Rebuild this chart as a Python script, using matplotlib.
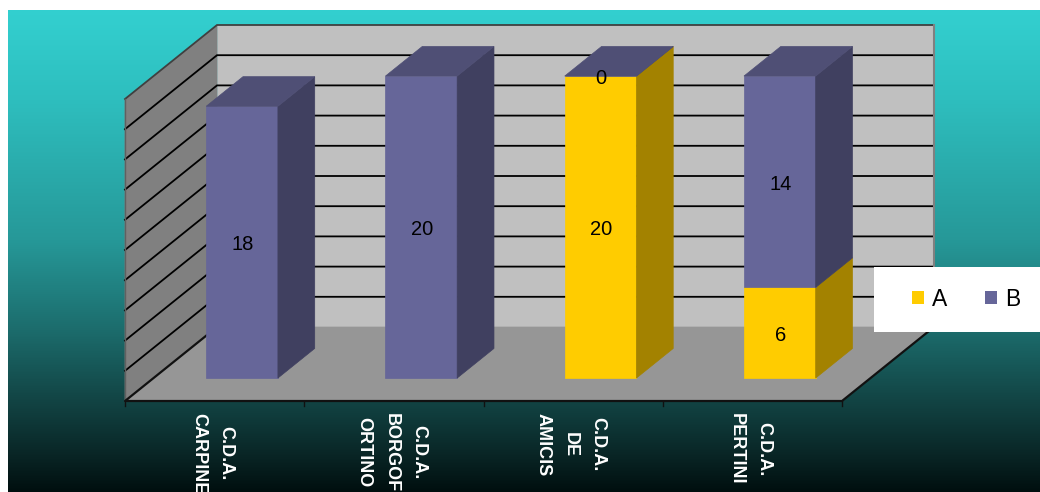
import numpy as np
import matplotlib
matplotlib.use("Agg")
import matplotlib.pyplot as plt
from matplotlib.patches import Polygon, Rectangle

categories = ["C.D.A.\nCARPINE", "C.D.A.\nBORGOF\nORTINO", "C.D.A.\nDE\nAMICIS", "C.D.A.\nPERTINI"]
series_names = ["A", "B"]
values_a = [np.nan, np.nan, 20, 6]
values_b = [18, 20, 0, 14]
grid_ticks = list(range(0, 21, 2))

plt.rcParams["font.family"] = ["Liberation Sans", "DejaVu Sans"]
fig = plt.figure(figsize=(10.4, 4.92), dpi=100, facecolor="white")
ax = fig.add_axes([0, 0, 1, 1])
ax.axis("off")

# background gradient
stops_y = [10, 100, 240, 330, 400, 450, 492]
stops_c = np.array([[51, 208, 208], [46, 190, 190], [38, 152, 152], [28, 108, 108],
                    [18, 68, 68], [10, 40, 40], [0, 14, 14]]) / 255
ys = np.arange(10, 492)
grad = np.stack([np.interp(ys, stops_y, stops_c[:, i]) for i in range(3)], axis=1)[:, None, :]
ax.imshow(grad, extent=(8, 1040, 492, 10), aspect="auto", zorder=0, interpolation="bilinear")
ax.set_xlim(0, 1040)
ax.set_ylim(492, 0)

# projection: category position, value, depth (0 front .. 1 back)
X0, Y0, CAT_W, UNIT, DX, DY = 125, 401, 179.25, 15.1, 92, 74


def P(c, v, d):
    return (X0 + c * CAT_W + d * DX, Y0 - v * UNIT - d * DY)


def poly(pts, color, z, edge=None):
    ax.add_patch(Polygon(pts, closed=True, facecolor=color, edgecolor=edge or color, lw=0.5, zorder=z))


n = len(categories)
top = grid_ticks[-1]
poly([P(0, 0, 1), P(n, 0, 1), P(n, top, 1), P(0, top, 1)], "#C0C0C0", 1)
poly([P(0, 0, 0), P(0, 0, 1), P(0, top, 1), P(0, top, 0)], "#808080", 1)
poly([P(0, 0, 0), P(n, 0, 0), P(n, 0, 1), P(0, 0, 1)], "#969696", 1)

for t in grid_ticks[1:]:
    lc = "#404040" if t == top else "black"
    ax.plot(*zip(P(0, t, 0), P(0, t, 1), P(n, t, 1)), color=lc, lw=1.3, zorder=2, solid_joinstyle="miter")
ax.plot(*zip(P(n, top, 1), P(n, 0, 1)), color="#808080", lw=1.5, zorder=2)
ax.plot(*zip(P(0, top, 0), P(0, 0, 0)), color="#606060", lw=1, zorder=2)
ax.plot(*zip(P(0, 0, 1), P(0, 0, 0), P(n, 0, 0), P(n, 0, 1)), color="#111111", lw=1.6, zorder=3)
for i in range(n + 1):
    x, y = P(i, 0, 0)
    ax.plot([x, x], [y, y + 5], color="#111111", lw=1, zorder=3)

# bars
styles = [("#FFCC00", "#A38200", "#A38200"), ("#666699", "#404060", "#4F4F75")]
D0, D1 = 0.31, 0.71
W = 0.20
SHIFT = -0.006
for i in range(n):
    base = 0
    l, r = i + 0.5 - W + SHIFT, i + 0.5 + W + SHIFT
    segs = [(values_a[i], styles[0]), (values_b[i], styles[1])]
    for val, (front, side, cap) in segs:
        if np.isnan(val):
            continue
        poly([P(l, base, D0), P(r, base, D0), P(r, base + val, D0), P(l, base + val, D0)], front, 5)
        poly([P(r, base, D0), P(r, base, D1), P(r, base + val, D1), P(r, base + val, D0)], side, 5)
        ax.annotate(f"{val:g}", P(i + 0.5 + SHIFT, base + val / 2, D0), xytext=(0.5, -2),
                    textcoords="offset points", ha="center", va="center",
                    fontsize=14.5, color="black", zorder=8)
        base += val
    poly([P(l, base, D0), P(r, base, D0), P(r, base, D1), P(l, base, D1)], styles[1][2], 6)

# category labels
for i, lab in enumerate(categories):
    x, _ = P(i + 0.5, 0, D0)
    ax.text(x - 31, 413, lab, rotation=-90, ha="center", va="top",
            multialignment="center", fontsize=13, fontweight="bold", color="white",
            linespacing=1.8, zorder=4, clip_on=True)

# legend
ax.add_patch(Rectangle((874, 267), 166, 65, facecolor="white", edgecolor="none", zorder=9))
hs = [Rectangle((0, 0), 1, 1, facecolor=styles[k][0]) for k in range(2)]
leg = ax.legend(hs, series_names, ncol=2, frameon=False, fontsize=16.5, loc="center",
                bbox_to_anchor=(966.5, 299), bbox_transform=ax.transData,
                handlelength=0.52, handleheight=0.52, handletextpad=0.35, columnspacing=1.65,
                borderpad=0, borderaxespad=0)
leg.set_zorder(10)

fig.savefig("out.png", dpi=100, facecolor="white")
